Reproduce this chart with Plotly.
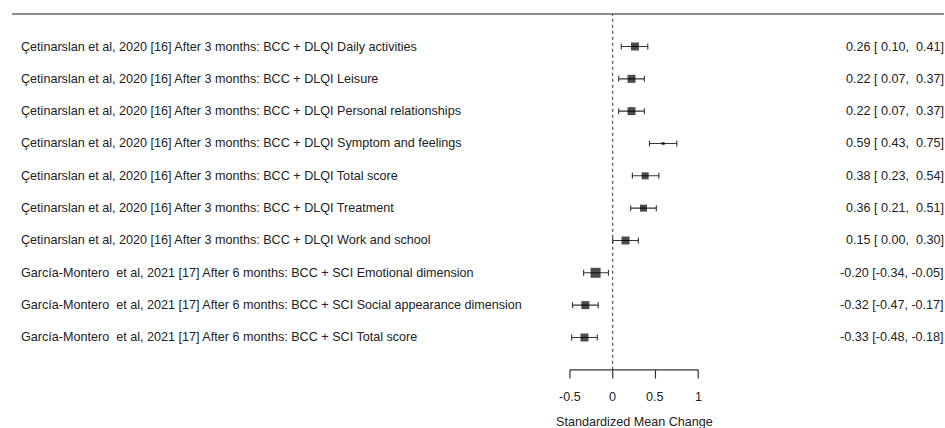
import plotly.graph_objects as go

studies = [
    "Çetinarslan et al, 2020 [16] After 3 months: BCC + DLQI Daily activities",
    "Çetinarslan et al, 2020 [16] After 3 months: BCC + DLQI Leisure",
    "Çetinarslan et al, 2020 [16] After 3 months: BCC + DLQI Personal relationships",
    "Çetinarslan et al, 2020 [16] After 3 months: BCC + DLQI Symptom and feelings",
    "Çetinarslan et al, 2020 [16] After 3 months: BCC + DLQI Total score",
    "Çetinarslan et al, 2020 [16] After 3 months: BCC + DLQI Treatment",
    "Çetinarslan et al, 2020 [16] After 3 months: BCC + DLQI Work and school",
    "García-Montero  et al, 2021 [17] After 6 months: BCC + SCI Emotional dimension",
    "García-Montero  et al, 2021 [17] After 6 months: BCC + SCI Social appearance dimension",
    "García-Montero  et al, 2021 [17] After 6 months: BCC + SCI Total score",
]
smc = [0.26, 0.22, 0.22, 0.59, 0.38, 0.36, 0.15, -0.20, -0.32, -0.33]
ci_low = [0.10, 0.07, 0.07, 0.43, 0.23, 0.21, 0.00, -0.34, -0.47, -0.48]
ci_high = [0.41, 0.37, 0.37, 0.75, 0.54, 0.51, 0.30, -0.05, -0.17, -0.18]
weights = [8, 8, 8, 3, 7, 7, 8, 10, 8, 8]
x_ticks = [-0.5, 0, 0.5, 1]
x_tick_labels = ["-0.5", "0", "0.5", "1"]
x_title = "Standardized Mean Change"

W, H = 945, 428
n = len(studies)
rows = list(range(n, 0, -1))  # top row = n

FONT = "Arial, Liberation Sans, sans-serif"
FS = 12.6
TXT = "#222222"

def fmt(v):
    s = f"{v:.2f}"
    return s if v < 0 else "\u00a0" + s

def ci_text(m, lo, hi):
    mm = f"{m:.2f}"
    return f"{mm} [{fmt(lo)}, {fmt(hi)}]"

fig = go.Figure()

fig.add_trace(go.Scatter(
    x=smc, y=rows, mode="markers",
    marker=dict(symbol="square", size=weights, color="black", line=dict(width=0)),
    error_x=dict(type="data", symmetric=False,
                 array=[h - m for h, m in zip(ci_high, smc)],
                 arrayminus=[m - l for m, l in zip(smc, ci_low)],
                 color="#333333", thickness=1.1, width=3),
    showlegend=False, hoverinfo="skip",
))

shapes = []
# top rule
shapes.append(dict(type="line", xref="paper", yref="y", x0=12 / W, x1=944 / W,
                   y0=n + 1.005, y1=n + 1.005, line=dict(color="#666666", width=1.6)))
# reference line at 0
shapes.append(dict(type="line", xref="x", yref="y", x0=0, x1=0, y0=0, y1=n + 1.005,
                   line=dict(color="#333333", width=1, dash="dot")))
# x axis line
shapes.append(dict(type="line", xref="x", yref="y", x0=x_ticks[0], x1=x_ticks[-1],
                   y0=0, y1=0, line=dict(color="#333333", width=1.2)))
for t in x_ticks:
    shapes.append(dict(type="line", xref="x", yref="y", x0=t, x1=t, y0=0, y1=-0.27,
                       line=dict(color="#333333", width=1.2)))

annotations = []
for r, s, m, lo, hi in zip(rows, studies, smc, ci_low, ci_high):
    annotations.append(dict(x=18.5 / W, xref="paper", y=r, yref="y", text=s.replace("  ", " \u00a0"),
                            showarrow=False, xanchor="left", yanchor="middle",
                            font=dict(family=FONT, size=FS, color=TXT)))
    annotations.append(dict(x=946 / W, xref="paper", y=r, yref="y", text=ci_text(m, lo, hi),
                            showarrow=False, xanchor="right", yanchor="middle",
                            font=dict(family=FONT, size=FS, color=TXT)))
for t, lab in zip(x_ticks, x_tick_labels):
    annotations.append(dict(x=t, xref="x", y=-0.85, yref="y", text=lab, showarrow=False,
                            xanchor="center", yanchor="middle",
                            font=dict(family=FONT, size=FS, color=TXT)))
annotations.append(dict(x=(x_ticks[0] + x_ticks[-1]) / 2, xref="x", y=-1.62, yref="y",
                        text=x_title, showarrow=False, xanchor="center", yanchor="middle",
                        font=dict(family=FONT, size=FS, color=TXT)))

px0, scale = 612.7, 85.5
y0px, dy = 46.5, 32.33
fig.update_layout(
    width=W, height=H,
    margin=dict(l=0, r=0, t=0, b=0),
    paper_bgcolor="white", plot_bgcolor="white",
    xaxis=dict(range=[-px0 / scale, (W - px0) / scale], visible=False, fixedrange=True),
    yaxis=dict(range=[n - (H - y0px) / dy, n + y0px / dy], visible=False, fixedrange=True),
    shapes=shapes, annotations=annotations,
)

fig.write_html("out.html")
